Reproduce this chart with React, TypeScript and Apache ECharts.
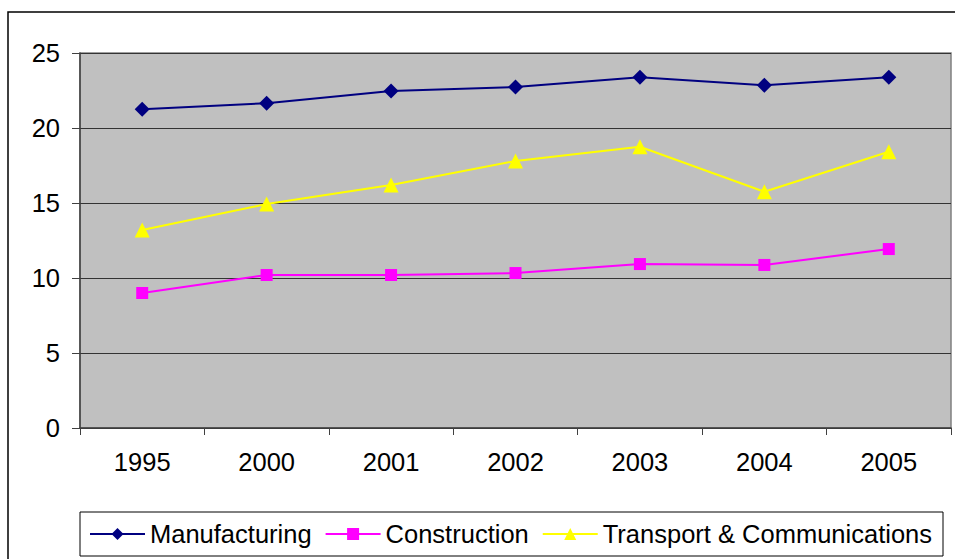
import React, { useEffect, useRef } from "react";
import * as echarts from "echarts";

const years = ["1995", "2000", "2001", "2002", "2003", "2004", "2005"];
const manufacturing = [21.25, 21.65, 22.47, 22.73, 23.38, 22.85, 23.38];
const construction = [9.0, 10.2, 10.2, 10.33, 10.93, 10.87, 11.93];
const transport = [13.2, 14.93, 16.2, 17.8, 18.75, 15.75, 18.42];
const yTicks = { min: 0, max: 25, interval: 5 };

const FONT = "'Liberation Sans', Arial, sans-serif";

export default function App() {
  const ref = useRef<HTMLDivElement>(null);
  useEffect(() => {
    if (!ref.current) return;
    const chart = echarts.init(ref.current, undefined, { renderer: "svg" });
    chart.setOption({
      animation: false,
      backgroundColor: "#ffffff",
      textStyle: { fontFamily: FONT },
      graphic: [
        {
          type: "rect",
          shape: { x: 8, y: 12, width: 1000, height: 700 },
          style: { fill: "none", stroke: "#000", lineWidth: 1.5 },
          silent: true,
          z: -10,
        },
      ],
      grid: {
        left: 80,
        top: 53,
        right: 4,
        bottom: 131,
        show: true,
        backgroundColor: "#c0c0c0",
        borderColor: "#808080",
        borderWidth: 1.5,
      },
      legend: {
        left: 80,
        top: 512,
        itemWidth: 55,
        itemHeight: 15,
        itemGap: 13,
        padding: [9, 11, 9, 9],
        borderColor: "#000",
        borderWidth: 1,
        backgroundColor: "#fff",
        textStyle: { fontSize: 25.5, color: "#000", fontFamily: FONT },
        data: ["Manufacturing", "Construction", "Transport & Communications"],
      },
      xAxis: {
        type: "category",
        data: years,
        boundaryGap: true,
        axisLine: { lineStyle: { color: "#404040", width: 1.5 } },
        axisTick: { show: true, length: 7, lineStyle: { color: "#404040" } },
        axisLabel: { fontSize: 25.5, color: "#000", margin: 21, fontFamily: FONT },
      },
      yAxis: {
        type: "value",
        min: yTicks.min,
        max: yTicks.max,
        interval: yTicks.interval,
        axisLine: { show: true, lineStyle: { color: "#404040", width: 1.5 } },
        axisTick: { show: true, length: 8, lineStyle: { color: "#404040" } },
        axisLabel: { fontSize: 25.5, color: "#000", margin: 20, fontFamily: FONT },
        splitLine: { lineStyle: { color: "#333", width: 1.2 } },
      },
      series: [
        {
          name: "Manufacturing",
          type: "line",
          data: manufacturing,
          symbol: "diamond",
          symbolSize: 15,
          lineStyle: { color: "#000080", width: 2 },
          itemStyle: { color: "#000080" },
        },
        {
          name: "Construction",
          type: "line",
          data: construction,
          symbol: "rect",
          symbolSize: 12,
          lineStyle: { color: "#ff00ff", width: 2 },
          itemStyle: { color: "#ff00ff" },
        },
        {
          name: "Transport & Communications",
          type: "line",
          data: transport,
          symbol: "triangle",
          symbolSize: 15,
          lineStyle: { color: "#ffff00", width: 2 },
          itemStyle: { color: "#ffff00" },
        },
      ],
    });
    return () => chart.dispose();
  }, []);
  return (
    <div
      ref={ref}
      style={{ position: "fixed", left: 0, top: 0, width: 955, height: 559 }}
    />
  );
}
